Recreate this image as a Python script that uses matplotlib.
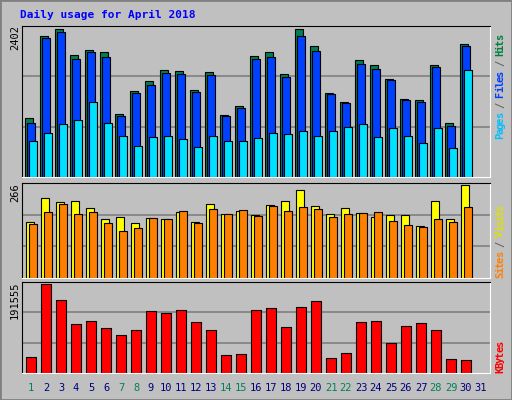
import matplotlib
matplotlib.use("Agg")
import matplotlib.pyplot as plt
import numpy as np

days = list(range(1, 32))
weekend = [1, 7, 8, 14, 15, 21, 22, 28, 29]
hits_px = [117,36,29,55,50,52,113,91,81,70,71,90,72,114,106,56,52,74,29,46,93,102,60,65,79,99,100,65,122,44]
files_px = [122,38,32,59,52,57,115,93,85,73,74,92,75,115,107,59,57,77,36,51,94,103,64,69,80,100,102,67,125,46]
pages_px = [140,132,123,119,102,122,135,145,136,135,138,146,135,140,140,137,132,133,130,135,130,126,123,136,127,135,142,127,147,70]
hits = [round((176-y)/148*2418) for y in hits_px]
files = [round((176-y)/148*2418) for y in files_px]
pages = [round((176-y)/148*2418) for y in pages_px]
visits_px = [221,197,201,200,207,218,216,222,217,218,211,221,203,213,210,214,204,200,189,205,213,207,212,216,214,214,225,200,218,184]
sites_px = [223,211,203,213,211,222,230,227,217,218,210,222,208,213,209,215,205,210,206,208,216,213,212,211,220,224,226,218,221,206]
visits = [round((277-y)/93*266) for y in visits_px]
sites = [round((277-y)/93*266) for y in sites_px]
kb_px = [356,284,300,324,321,328,335,330,311,313,310,322,330,354,353,310,308,327,307,301,357,352,322,321,342,326,323,330,358,359]
kbytes = [round((372-y)/88*191555) for y in kb_px]

W, H = 512, 400
fig = plt.figure(figsize=(5.12, 4.0), dpi=100, facecolor="#C0C0C0")
fig.patches.append(plt.Rectangle((0, 0), 1, 1, transform=fig.transFigure, fill=False, ec="#808080", lw=2))

def ax_px(top, bot):
    a = fig.add_axes([22/W, 1-bot/H, 468/W, (bot-top)/H])
    a.set_facecolor("#C0C0C0")
    a.set_xticks([]); a.set_yticks([])
    for s in a.spines.values():
        s.set_color("black")
    a.spines["right"].set_color("white"); a.spines["bottom"].set_color("white")
    a.set_xlim(0.4, 0.4 + 468/15)
    return a

def grid(a, top):
    a.set_ylim(0, top)
    for k in (1, 2):
        a.axhline(top*k/3, color="#808080", lw=1.2, zorder=0)

x = np.arange(1, 31)
d = 1/15
a1 = ax_px(26, 177)
grid(a1, max(hits)*1.02)
a1.bar(x-2*d, hits, 8*d, color="#008050", ec="black", lw=0.8, zorder=2)
a1.bar(x, files, 8*d, color="#0040FF", ec="black", lw=0.8, zorder=2)
a1.bar(x+2*d, pages, 8*d, color="#00E0FF", ec="black", lw=0.8, zorder=2)

a2 = ax_px(183, 278)
grid(a2, max(visits)*1.02)
a2.bar(x-1.5*d, visits, 8*d, color="#FFFF00", ec="black", lw=0.8, zorder=2)
a2.bar(x+1.5*d, sites, 8*d, color="#FF8000", ec="black", lw=0.8, zorder=2)

a3 = ax_px(282, 373)
grid(a3, max(kbytes)*1.02)
a3.bar(x, kbytes, 10*d, color="#FF0000", ec="black", lw=0.8, zorder=2)

fnt = dict(family="DejaVu Sans Mono", fontsize=7.5)
fig.text(20/W, 1-15/H, "Daily usage for April 2018", color="#0000FF", fontweight="bold",
         va="center", ha="left", family="DejaVu Sans Mono", fontsize=8)
for dd in days:
    xp = 22 + (dd-0.4)*15
    fig.text(xp/W, 1-388/H, str(dd), ha="center", va="center",
             color="#00805C" if dd in weekend else "#000080", **fnt)

fig.text(15/W, 1-38/H, str(max(hits)), rotation=90, ha="center", va="center", **fnt)
fig.text(15/W, 1-193/H, str(max(visits)), rotation=90, ha="center", va="center", **fnt)
fig.text(15/W, 1-300/H, str(max(kbytes)), rotation=90, ha="center", va="center", **fnt)

def vlabel(parts, ybot, cw=5.2):
    y = ybot
    for txt, col in parts:
        for ch in txt:
            fig.text(500/W, 1-y/H, ch, rotation=90, ha="center", va="center", color=col,
                     fontweight="bold", **fnt)
            y -= cw

g = "#606060"
vlabel([("Pages", "#00C0FF"), (" / ", g), ("Files", "#0040FF"), (" / ", g), ("Hits", "#008040")], 136)
vlabel([("Sites", "#FF8000"), (" / ", g), ("Visits", "#E0E000")], 275)
vlabel([("KBytes", "#FF0000")], 370)

fig.savefig("out.png", dpi=100, facecolor=fig.get_facecolor())
